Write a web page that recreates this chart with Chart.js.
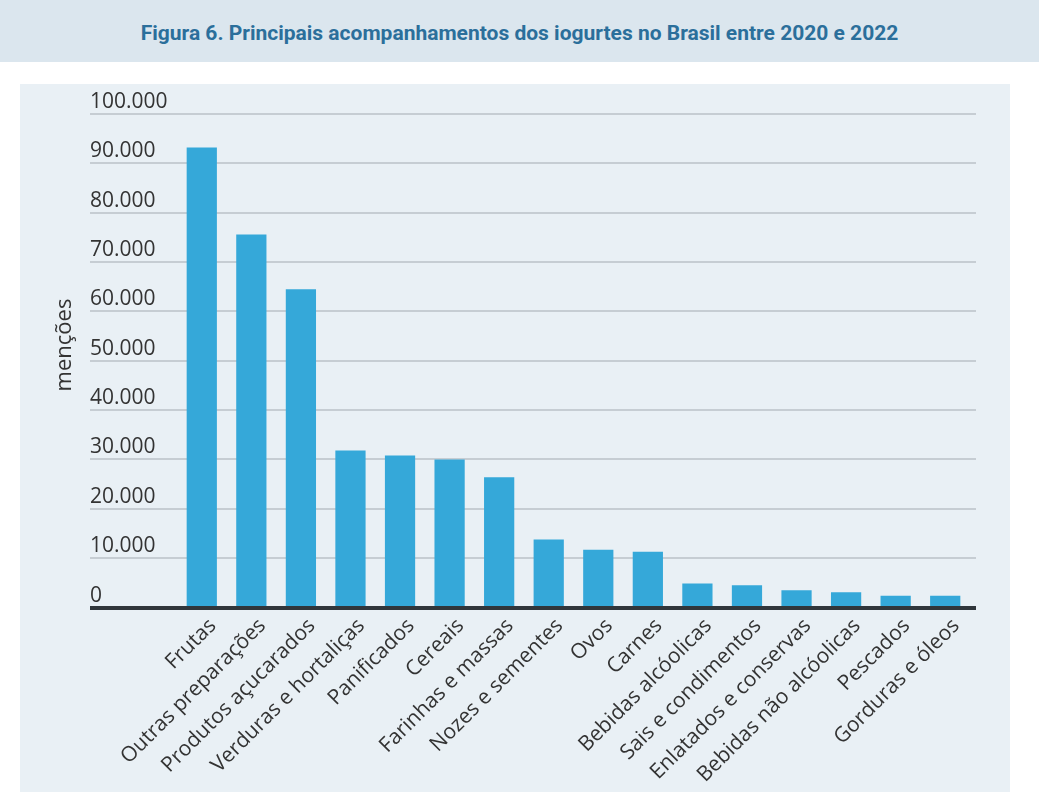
<!DOCTYPE html>
<html lang="pt-BR">
<head>
<meta charset="utf-8">
<script src="https://cdn.jsdelivr.net/npm/chart.js@4.4.1/dist/chart.umd.min.js"></script>
<style>
  body { margin: 0; background: #fff; width: 1039px; height: 798px; position: relative; overflow: hidden; }
  #title {
    position: absolute; left: 0; top: 0; width: 1039px; height: 62px;
    background: #dbe6ee; color: #2b6f9b;
    font: bold 21px Roboto, sans-serif; text-align: center; line-height: 66px;
  }
  #panel { position: absolute; left: 20px; top: 84px; width: 990px; height: 708px; background: #e9f0f5; }
</style>
</head>
<body>
<div id="title">Figura 6. Principais acompanhamentos dos iogurtes no Brasil entre 2020 e 2022</div>
<div id="panel"><canvas id="chart" width="990" height="708"></canvas></div>
<script>
// dados (menções)
const categories = [
  'Frutas', 'Outras preparações', 'Produtos açucarados', 'Verduras e hortaliças',
  'Panificados', 'Cereais', 'Farinhas e massas', 'Nozes e sementes', 'Ovos', 'Carnes',
  'Bebidas alcóolicas', 'Sais e condimentos', 'Enlatados e conservas',
  'Bebidas não alcóolicas', 'Pescados', 'Gorduras e óleos'
];
const mentions = [
  93200, 75600, 64500, 31800, 30800, 30000, 26400, 13800, 11700, 11300,
  4850, 4500, 3500, 3100, 2400, 2400
];
const yTicks = [0, 10000, 20000, 30000, 40000, 50000, 60000, 70000, 80000, 90000, 100000];
const yTitle = 'menções';

const fmt = v => v.toLocaleString('pt-BR');

// grade, linha do eixo, rótulos do eixo y e título, desenhados a partir da escala
const panelDecor = {
  id: 'panelDecor',
  beforeDatasetsDraw(chart) {
    const ctx = chart.ctx, y = chart.scales.y;
    ctx.save();
    ctx.strokeStyle = '#c6cdd3';
    ctx.lineWidth = 2;
    yTicks.forEach(v => {
      if (v === 0) return;
      const py = Math.round(y.getPixelForValue(v));
      ctx.beginPath();
      ctx.moveTo(70, py);
      ctx.lineTo(956, py);
      ctx.stroke();
    });
    ctx.restore();
  },
  afterDatasetsDraw(chart) {
    const ctx = chart.ctx, y = chart.scales.y;
    ctx.save();
    // linha do zero
    const py0 = y.getPixelForValue(0);
    ctx.fillStyle = '#30363b';
    ctx.fillRect(70, py0 - 1.5, 886, 4);
    // rótulos
    ctx.fillStyle = '#333';
    ctx.font = '21px "Open Sans"';
    ctx.textAlign = 'left';
    ctx.textBaseline = 'alphabetic';
    yTicks.forEach(v => {
      ctx.fillText(fmt(v), 70, y.getPixelForValue(v) - 6);
    });
    // título do eixo
    ctx.translate(45, 261);
    ctx.rotate(-Math.PI / 2);
    ctx.textAlign = 'center';
    ctx.textBaseline = 'middle';
    ctx.font = '22px "Open Sans"';
    ctx.fillText(yTitle, 0, 0);
    ctx.restore();
  }
};

new Chart(document.getElementById('chart'), {
  type: 'bar',
  data: {
    labels: categories,
    datasets: [{
      data: mentions,
      backgroundColor: '#35a8d9',
      barPercentage: 0.61,
      categoryPercentage: 1
    }]
  },
  options: {
    responsive: false,
    animation: false,
    layout: { padding: { left: 157, right: 40, top: 30, bottom: 0 } },
    plugins: { legend: { display: false }, tooltip: { enabled: false } },
    scales: {
      x: {
        grid: { display: false },
        border: { display: false },
        ticks: {
          color: '#333',
          font: { family: 'Open Sans', size: 21 },
          minRotation: 45,
          maxRotation: 45,
          padding: -2,
          labelOffset: 11
        },
        afterFit(s) { s.height = 184.5; }
      },
      y: {
        display: false,
        min: 0,
        max: 100000,
        ticks: { stepSize: 10000 }
      }
    }
  },
  plugins: [panelDecor]
});
</script>
</body>
</html>
